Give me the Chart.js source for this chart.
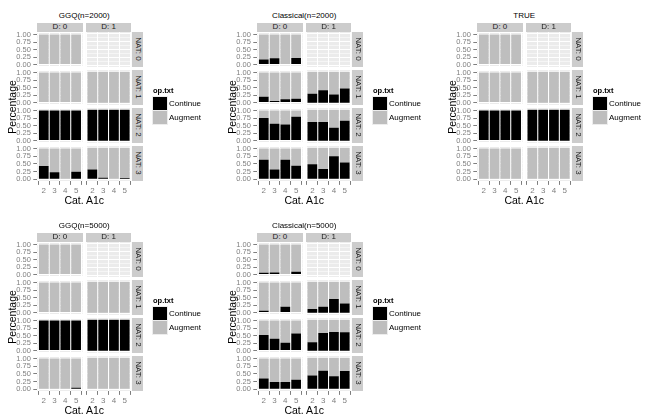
<!DOCTYPE html>
<html><head><meta charset="utf-8">
<script src="https://cdn.jsdelivr.net/npm/chart.js@4.4.1/dist/chart.umd.min.js"></script>
<style>
html,body{margin:0;padding:0;background:#fff}
#root{position:relative;width:658px;height:420px;overflow:hidden;font-family:"Liberation Sans",Arial,sans-serif;-webkit-font-smoothing:antialiased}
.t{position:absolute;white-space:nowrap;line-height:1}
.c{position:absolute;white-space:nowrap;line-height:1;text-align:center}
.strip{position:absolute;background:#CCCCCC;color:#1A1A1A;font-size:8px;display:flex;align-items:center;justify-content:center;overflow:hidden}
.strip span{white-space:nowrap;line-height:1}
canvas{display:block}
</style></head><body>
<div id="root"></div>
<script>
// ---------- data ----------
const categories = ['2', '3', '4', '5'];
const dLabels = ['D: 0', 'D: 1'];
const natLabels = ['NAT: 0', 'NAT: 1', 'NAT: 2', 'NAT: 3'];
const yTickValues = [0, 0.25, 0.5, 0.75, 1];
const yMinorValues = [0.125, 0.375, 0.625, 0.875];
const seriesNames = ['Continue', 'Augment'];
const seriesColors = ['#000000', '#BEBEBE'];
const plotTitles = ['GGQ(n=2000)', 'Classical(n=2000)', 'TRUE', 'GGQ(n=5000)', 'Classical(n=5000)'];

// share of "Continue" per facet: rows = NAT 0..3, values per category; null = no data
const ggq2000_D0 = [[0.02, 0, 0, 0], [0, 0, 0, 0], [1, 1, 1, 1], [0.43, 0.23, 0, 0.25]];
const ggq2000_D1 = [null, [0, 0, 0, 0], [1, 1, 1, 1], [0.31, 0.05, 0, 0.04]];
const cls2000_D0 = [[0.17, 0.21, 0, 0.22], [0.19, 0.05, 0.105, 0.125], [0.75, 0.56, 0.53, 0.79], [0.64, 0.32, 0.64, 0.44]];
const cls2000_D1 = [null, [0.305, 0.41, 0.28, 0.47], [0.61, 0.61, 0.43, 0.65], [0.48, 0.33, 0.73, 0.53]];
const true_D0 = [[0, 0, 0, 0], [0, 0, 0, 0], [1, 1, 1, 1], [0, 0, 0, 0]];
const true_D1 = [null, [0, 0, 0, 0], [1, 1, 1, 1], [0, 0, 0, 0]];
const ggq5000_D0 = [[0.02, 0, 0, 0], [0, 0, 0, 0], [1, 1, 1, 1], [0, 0, 0, 0.05]];
const ggq5000_D1 = [null, [0, 0, 0, 0], [1, 1, 1, 1], [0, 0, 0, 0]];
const cls5000_D0 = [[0.06, 0.07, 0, 0.09], [0.06, 0, 0.19, 0], [0.52, 0.39, 0.26, 0.57], [0.35, 0.24, 0.24, 0.31]];
const cls5000_D1 = [null, [0.14, 0.21, 0.45, 0.31], [0.29, 0.58, 0.61, 0.60], [0.44, 0.59, 0.41, 0.58]];

const plotData = [
  [ggq2000_D0, ggq2000_D1],
  [cls2000_D0, cls2000_D1],
  [true_D0, true_D1],
  [ggq5000_D0, ggq5000_D1],
  [cls5000_D0, cls5000_D1]
];

// ---------- layout ----------
const plotOrigins = [[0, 0], [220, 0], [440, 0], [0, 210], [220, 210]];
const PANEL_W = 45.3, PANEL_H = 34.8;
const COL_X = [37.3, 85.9];
const ROW_Y0 = 32.1, ROW_STEP = 38;
const FONT = '"Liberation Sans", Arial, sans-serif';
const root = document.getElementById('root');

function addText(text, css, cls) {
  const el = document.createElement('div');
  el.className = cls || 't';
  el.textContent = text;
  el.style.cssText += css;
  root.appendChild(el);
  return el;
}
function addStrip(text, l, t, w, h, rotate) {
  const el = document.createElement('div');
  el.className = 'strip';
  el.style.left = l + 'px'; el.style.top = t + 'px';
  el.style.width = w + 'px'; el.style.height = h + 'px';
  const s = document.createElement('span');
  s.textContent = text;
  if (rotate) s.style.transform = 'rotate(90deg)';
  el.appendChild(s);
  root.appendChild(el);
}

const bgPlugin = {
  id: 'panelBg',
  beforeDraw(chart) {
    const { ctx, chartArea: a } = chart;
    ctx.save();
    ctx.fillStyle = '#EBEBEB';
    ctx.fillRect(a.left, a.top, a.right - a.left, a.bottom - a.top);
    ctx.restore();
  }
};

function makeFacet(ox, oy, d, nat, cont) {
  const PL = ox + COL_X[d], PT = oy + ROW_Y0 + ROW_STEP * nat;
  const showY = d === 0, showX = nat === 3;
  const cl = showY ? Math.floor(ox) : Math.floor(PL) - 2;
  const cr = Math.ceil(PL + PANEL_W) + 2;
  const ct = Math.floor(PT) - 6;
  const cb = Math.ceil(PT + PANEL_H) + (showX ? 16 : 6);
  const canvas = document.createElement('canvas');
  canvas.width = cr - cl; canvas.height = cb - ct;
  canvas.style.cssText = `position:absolute;left:${cl}px;top:${ct}px;width:${cr - cl}px;height:${cb - ct}px`;
  root.appendChild(canvas);
  const yAxisW = PL - cl;
  const xAxisH = cb - (PT + PANEL_H);

  const datasets = cont ? [
    { label: seriesNames[0], data: categories.map((c, i) => ({ x: Number(c), y: cont[i] })), backgroundColor: seriesColors[0] },
    { label: seriesNames[1], data: categories.map((c, i) => ({ x: Number(c), y: 1 - cont[i] })), backgroundColor: seriesColors[1] }
  ] : [];

  new Chart(canvas, {
    type: 'bar',
    data: { datasets },
    plugins: [bgPlugin],
    options: {
      responsive: false, animation: false, devicePixelRatio: 1,
      layout: {
        autoPadding: false,
        padding: {
          left: showY ? 0 : PL - cl,
          right: cr - (PL + PANEL_W),
          top: PT - ct,
          bottom: showX ? 0 : cb - (PT + PANEL_H)
        }
      },
      plugins: { legend: { display: false }, tooltip: { enabled: false } },
      datasets: { bar: { barPercentage: 0.9, categoryPercentage: 1, borderWidth: 0 } },
      scales: {
        x: {
          type: 'linear', min: 1.4, max: 5.6, stacked: true, offset: false,
          afterBuildTicks: s => { s.ticks = categories.map(c => ({ value: Number(c) })); },
          afterFit: s => { s.height = showX ? xAxisH : 0; },
          ticks: {
            display: showX, autoSkip: false, maxRotation: 0, padding: 1.5,
            color: '#7F7F7F', font: { family: FONT, size: 8 },
            callback: (v, i) => categories[i]
          },
          grid: { color: '#FFFFFF', lineWidth: 1, drawTicks: showX, tickLength: 4, tickColor: '#7F7F7F', tickWidth: 1 },
          border: { display: false }
        },
        y: {
          type: 'linear', min: -0.05, max: 1.05, stacked: true,
          afterBuildTicks: s => {
            s.ticks = yTickValues.concat(yMinorValues).sort((a, b) => a - b).map(v => ({ value: v }));
          },
          afterFit: s => { s.width = showY ? yAxisW : 0; },
          ticks: {
            display: showY, autoSkip: false, padding: 2.5,
            color: '#7F7F7F', font: { family: FONT, size: 7.5 },
            callback: v => (yTickValues.includes(v) ? v.toFixed(2) : '')
          },
          grid: {
            color: '#FFFFFF',
            lineWidth: ctx => (ctx.tick && yMinorValues.includes(ctx.tick.value) ? 0.5 : 1),
            drawTicks: showY, tickLength: 4, tickWidth: 1,
            tickColor: ctx => (ctx.tick && yMinorValues.includes(ctx.tick.value) ? 'rgba(0,0,0,0)' : '#7F7F7F')
          },
          border: { display: false }
        }
      }
    }
  });
}

plotOrigins.forEach(([ox, oy], p) => {
  const left = ox + COL_X[0], width = COL_X[1] + PANEL_W - COL_X[0];
  // title
  addText(plotTitles[p], `left:${left}px;width:${width}px;top:${oy + 12}px;font-size:8px;color:#000`, 'c');
  // top strips
  dLabels.forEach((lab, d) => addStrip(lab, ox + COL_X[d], oy + 22.7, PANEL_W, 9.4, false));
  // right strips
  natLabels.forEach((lab, n) => addStrip(lab, ox + 132.4, oy + ROW_Y0 + ROW_STEP * n, 10.5, PANEL_H, true));
  // facets
  for (let n = 0; n < 4; n++) for (let d = 0; d < 2; d++) makeFacet(ox, oy, d, n, plotData[p][d][n]);
  // axis titles
  addText('Cat. A1c', `left:${left}px;width:${width}px;top:${oy + 194.5}px;font-size:10.5px;color:#000`, 'c');
  addText('Percentage', `left:${ox + 12}px;top:${oy + 106.5}px;font-size:10.5px;color:#000;transform:translate(-50%,-50%) rotate(-90deg)`);
  // legend
  addText('op.txt', `left:${ox + 153}px;top:${oy + 87}px;font-size:7.5px;font-weight:bold;color:#000`);
  seriesNames.forEach((nm, i) => {
    const k = document.createElement('div');
    k.style.cssText = `position:absolute;left:${ox + 153}px;top:${oy + 96.5 + i * 14}px;width:13.5px;height:13.5px;background:${seriesColors[i]};outline:0.5px solid #EDEDED`;
    root.appendChild(k);
    addText(nm, `left:${ox + 169}px;top:${oy + 99.5 + i * 14}px;font-size:8px;color:#000`);
  });
});
</script>
</body></html>
